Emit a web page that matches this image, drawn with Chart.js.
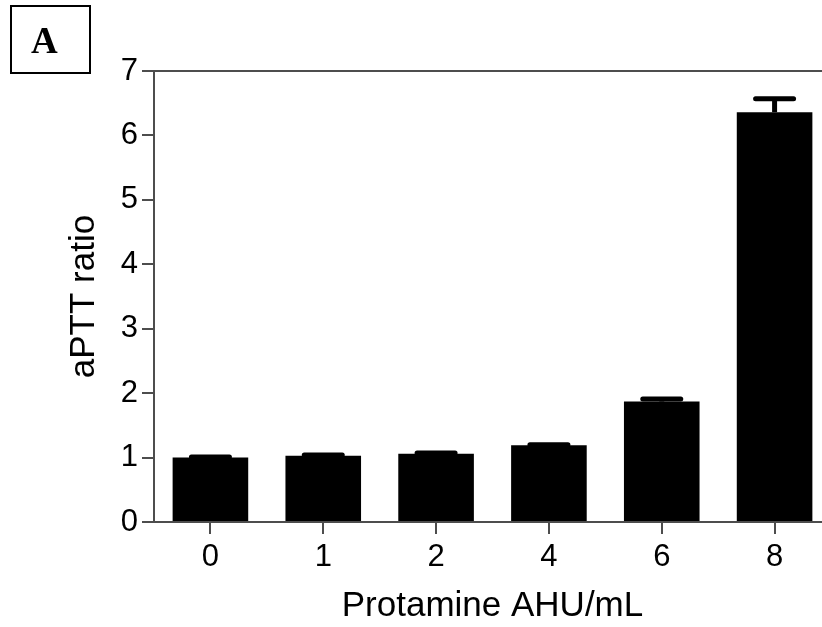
<!DOCTYPE html>
<html>
<head>
<meta charset="utf-8">
<script src="https://cdn.jsdelivr.net/npm/chart.js@4"></script>
<style>
  html, body { margin: 0; padding: 0; background: #fff; overflow: hidden; width: 822px; height: 627px; }
  #wrap { position: relative; width: 822px; height: 627px; }
  #panel {
    position: absolute; left: 10px; top: 5px; width: 77px; height: 65px;
    border: 2px solid #000; font: bold 37px "Liberation Serif", serif;
    line-height: 67px; text-indent: 19px; color: #000;
  }
  canvas { position: absolute; left: 0; top: 0; }
</style>
</head>
<body>
<div id="wrap">
  <canvas id="chart" width="832" height="627"></canvas>
  <div id="panel">A</div>
</div>
<script>
// Protamine doses (x categories)
const doses = ["0", "1", "2", "4", "6", "8"];
// mean aPTT ratio per dose
const means = [1.00, 1.03, 1.06, 1.19, 1.87, 6.36];
// upper error (SEM) per dose
const errors = [0.01, 0.01, 0.01, 0.01, 0.04, 0.21];
// y axis range
const yMin = 0;
const yMax = 7;

const axisColor = "#4d4d4d";

// draws the upward error bars on top of each bar
const errorBars = {
  id: "errorBars",
  afterDatasetsDraw(chart) {
    const ctx = chart.ctx;
    const meta = chart.getDatasetMeta(0);
    const y = chart.scales.y;
    ctx.save();
    ctx.strokeStyle = "#000";
    ctx.lineWidth = 5;
    meta.data.forEach((bar, i) => {
      const top = y.getPixelForValue(means[i]);
      const cap = y.getPixelForValue(means[i] + errors[i]);
      ctx.lineCap = "butt";
      ctx.beginPath();
      ctx.moveTo(bar.x, top);
      ctx.lineTo(bar.x, cap);
      ctx.stroke();
      ctx.lineCap = "round";
      ctx.beginPath();
      ctx.moveTo(bar.x - 19, cap);
      ctx.lineTo(bar.x + 19, cap);
      ctx.stroke();
    });
    ctx.restore();
  }
};

new Chart(document.getElementById("chart").getContext("2d"), {
  type: "bar",
  data: {
    labels: doses,
    datasets: [{
      data: means,
      backgroundColor: "#000",
      borderWidth: 0,
      barPercentage: 0.67,
      categoryPercentage: 1
    }]
  },
  options: {
    responsive: false,
    animation: false,
    layout: { padding: { top: 71, right: 1, bottom: 0, left: 0 } },
    plugins: { legend: { display: false }, tooltip: { enabled: false } },
    scales: {
      x: {
        offset: true,
        afterFit(scale) { scale.height = 105; },
        border: { color: axisColor, width: 2 },
        grid: { drawOnChartArea: false, color: axisColor, tickColor: axisColor, tickLength: 12, lineWidth: 2, offset: false },
        ticks: { color: "#000", padding: 5, font: { family: "Liberation Sans", size: 31 } },
        title: {
          display: true,
          text: "Protamine AHU/mL",
          color: "#000",
          font: { family: "Liberation Sans", size: 35 },
          padding: { top: 0, bottom: 0 }
        }
      },
      y: {
        min: yMin,
        max: yMax,
        afterFit(scale) { scale.width = 154; },
        border: { color: axisColor, width: 2 },
        grid: {
          color: ctx => ctx.tick && ctx.tick.value === yMax ? axisColor : "rgba(0,0,0,0)",
          tickColor: axisColor,
          tickLength: 12,
          lineWidth: 2
        },
        ticks: { stepSize: 1, color: "#000", padding: 4, font: { family: "Liberation Sans", size: 31 } },
        title: {
          display: true,
          text: "aPTT ratio",
          color: "#000",
          font: { family: "Liberation Sans", size: 35 },
          padding: { top: 63, bottom: 0 }
        }
      }
    }
  },
  plugins: [errorBars]
});
</script>
</body>
</html>
